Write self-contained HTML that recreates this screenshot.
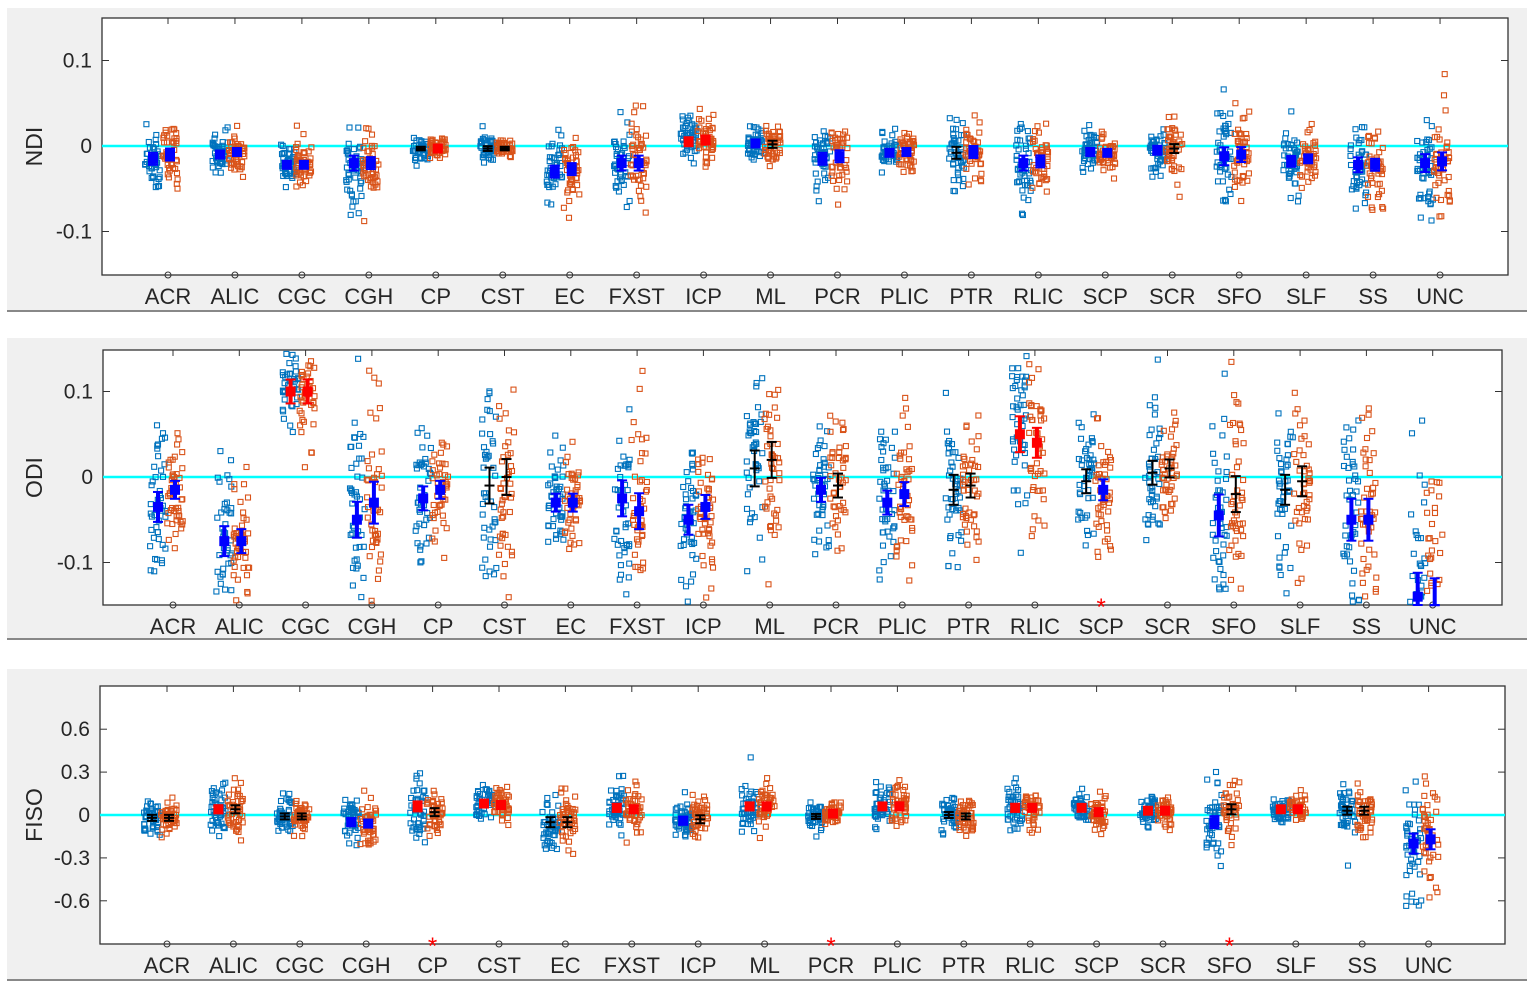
<!DOCTYPE html>
<html><head><meta charset="utf-8"><style>
body{margin:0;background:#fff;width:1535px;height:994px;overflow:hidden;font-family:"Liberation Sans",sans-serif}
</style></head><body>
<svg id="s" width="1535" height="994" xmlns="http://www.w3.org/2000/svg" font-family="Liberation Sans, sans-serif"></svg>
<script>
var s=document.getElementById('s'),out='';
var seed=12345;function rnd(){seed=(seed*1103515245+12345)%2147483648;return seed/2147483648;}
function gauss(){var u=rnd()||1e-9,v=rnd();return Math.sqrt(-2*Math.log(u))*Math.cos(2*Math.PI*v);}
var names=['ACR','ALIC','CGC','CGH','CP','CST','EC','FXST','ICP','ML','PCR','PLIC','PTR','RLIC','SCP','SCR','SFO','SLF','SS','UNC'];
var panels=[
{bg:[7,8,1520,302],ax:[102,18,1508,275],x0:168,dx:66.95,y0:146,ppu:855,ticks:[[0.1,'0.1'],[0,'0'],[-0.1,'-0.1']],lab:'NDI',laby:292,
d:[[-.015,.02,-.01,.02,'b','b'],[-.01,.012,-.007,.012,'b','b'],[-.022,.012,-.022,.012,'b','b'],[-.02,.025,-.02,.02,'b','b'],[-.003,.006,-.003,.006,'k','r'],[-.003,.008,-.003,.006,'k','k'],[-.03,.02,-.027,.02,'b','b'],[-.02,.025,-.02,.025,'b','b'],[.005,.015,.007,.015,'r','r'],[.003,.012,.002,.012,'b','k'],[-.015,.02,-.012,.02,'b','b'],[-.008,.012,-.007,.012,'b','b'],[-.008,.02,-.007,.02,'k','b'],[-.02,.025,-.018,.02,'b','b'],[-.007,.012,-.008,.01,'b','b'],[-.005,.015,-.003,.015,'b','k'],[-.012,.03,-.01,.025,'b','b'],[-.018,.018,-.015,.015,'b','b'],[-.022,.025,-.022,.02,'b','b'],[-.02,.03,-.018,.03,'b','b']],stars:[]},
{bg:[7,338,1520,300],ax:[103,350,1502,605],x0:173,dx:66.3,y0:477,ppu:855,ticks:[[0.1,'0.1'],[0,'0'],[-0.1,'-0.1']],lab:'ODI',laby:622,
d:[[-.035,.05,-.015,.03,'b','b'],[-.075,.05,-.075,.04,'b','b'],[.1,.04,.1,.04,'r','r'],[-.05,.06,-.03,.07,'b','b'],[-.025,.04,-.015,.03,'b','b'],[-.01,.06,0,.06,'k','k'],[-.03,.03,-.03,.03,'b','b'],[-.025,.06,-.04,.06,'b','b'],[-.05,.05,-.035,.04,'b','b'],[.01,.06,.02,.06,'k','k'],[-.015,.04,-.01,.04,'b','k'],[-.03,.04,-.02,.04,'b','b'],[-.015,.05,-.01,.04,'k','k'],[.05,.06,.04,.05,'r','r'],[-.005,.04,-.015,.035,'k','b'],[.005,.04,.01,.03,'k','k'],[-.045,.07,-.02,.06,'b','k'],[-.015,.05,-.005,.05,'k','k'],[-.05,.07,-.05,.07,'b','b'],[-.14,.08,-.15,.09,'b','b']],stars:[14]},
{bg:[7,669,1520,310],ax:[100,686,1505,944],x0:167,dx:66.4,y0:815,ppu:143,ticks:[[0.6,'0.6'],[0.3,'0.3'],[0,'0'],[-0.3,'-0.3'],[-0.6,'-0.6']],lab:'FISO',laby:961,
d:[[-.02,.06,-.02,.06,'k','k'],[.04,.08,.04,.08,'r','k'],[-.01,.06,-.01,.06,'k','k'],[-.05,.08,-.06,.08,'b','b'],[.06,.1,.02,.08,'r','k'],[.08,.05,.07,.05,'r','r'],[-.05,.1,-.05,.1,'k','k'],[.05,.08,.04,.08,'r','r'],[-.04,.08,-.03,.08,'b','k'],[.06,.08,.06,.08,'r','r'],[-.01,.05,.01,.04,'k','r'],[.06,.07,.06,.08,'r','r'],[0,.06,-.01,.06,'k','k'],[.05,.08,.05,.07,'r','r'],[.05,.06,.02,.06,'r','r'],[.03,.05,.03,.05,'r','r'],[-.05,.12,.04,.1,'b','k'],[.04,.05,.04,.05,'r','r'],[.03,.08,.03,.08,'k','k'],[-.2,.2,-.17,.2,'b','b']],stars:[4,10,16]}
];
var cols={b:'#0000ff',r:'#ff0000',k:'#000000'};
panels.forEach(function(p,pi){
 var a=p.ax;
 out+='<rect x="'+p.bg[0]+'" y="'+p.bg[1]+'" width="'+p.bg[2]+'" height="'+p.bg[3]+'" fill="#f0f0f0"/>';
 out+='<line x1="7" x2="1527" y1="'+(p.bg[1]+p.bg[3]+1)+'" y2="'+(p.bg[1]+p.bg[3]+1)+'" stroke="#888" stroke-width="2"/>';
 out+='<rect x="'+a[0]+'" y="'+a[1]+'" width="'+(a[2]-a[0])+'" height="'+(a[3]-a[1])+'" fill="#fff" stroke="#333" stroke-width="1.3"/>';
 var g='';
 g+='<line x1="'+a[0]+'" x2="'+a[2]+'" y1="'+p.y0+'" y2="'+p.y0+'" stroke="#00ffff" stroke-width="2.5"/>';
 function Y(v){return p.y0-v*p.ppu;}
 p.ticks.forEach(function(t){var y=Y(t[0]);out+='<text x="'+(a[0]-10)+'" y="'+(y+7)+'" font-size="21" fill="#262626" text-anchor="end">'+t[1]+'</text>';
  out+='<line x1="'+a[0]+'" x2="'+(a[0]+7)+'" y1="'+y+'" y2="'+y+'" stroke="#333"/><line x1="'+a[2]+'" x2="'+(a[2]-7)+'" y1="'+y+'" y2="'+y+'" stroke="#333"/>';});
 var cy=(a[1]+a[3])/2;
 out+='<text transform="translate(42,'+cy+') rotate(-90)" font-size="23" fill="#262626" text-anchor="middle">'+p.lab+'</text>';
 p.d.forEach(function(d,i){
  var xc=p.x0+i*p.dx;
  out+='<text x="'+xc+'" y="'+(p.laby+12)+'" font-size="22" fill="#262626" text-anchor="middle">'+names[i]+'</text>';
  out+='<line x1="'+xc+'" x2="'+xc+'" y1="'+a[1]+'" y2="'+(a[1]+6)+'" stroke="#333"/>';
  if(p.stars.indexOf(i)>=0) out+='<text x="'+xc+'" y="'+(a[3]+10)+'" font-size="24" fill="#ff0000" text-anchor="middle">*</text>';
  else out+='<circle cx="'+xc+'" cy="'+a[3]+'" r="3" fill="none" stroke="#333"/>';
  [[-15,d[0],d[1],'#0072bd',d[4]],[2,d[2],d[3],'#d95319',d[5]]].forEach(function(q){
   var xm=xc+q[0];
   for(var k=0;k<45;k++){var v=q[1]+q[2]*gauss();var y=Y(v);if(y<a[1]+3||y>a[3]-3)continue;
    var x=xm+(rnd()-0.5)*16;g+='<rect x="'+(x-2.5).toFixed(1)+'" y="'+(y-2.5).toFixed(1)+'" width="5" height="5" fill="none" stroke="'+q[3]+'" stroke-width="1.1"/>';}
   var se=q[2]*0.35,c=cols[q[4]],ym=Y(q[1]),y1=Math.max(Y(q[1]+se),a[1]),y2=Math.min(Y(q[1]-se),a[3]);
   var w=q[4]=='k'?2:4;
   g+='<line x1="'+xm+'" x2="'+xm+'" y1="'+y1+'" y2="'+y2+'" stroke="'+c+'" stroke-width="'+w+'"/>';
   g+='<line x1="'+(xm-5)+'" x2="'+(xm+5)+'" y1="'+y1+'" y2="'+y1+'" stroke="'+c+'" stroke-width="2"/><line x1="'+(xm-5)+'" x2="'+(xm+5)+'" y1="'+y2+'" y2="'+y2+'" stroke="'+c+'" stroke-width="2"/>';
   if(q[4]!='k'&&ym>a[1]&&ym<a[3]) g+='<rect x="'+(xm-5)+'" y="'+(ym-5)+'" width="10" height="10" fill="'+c+'"/>';
   else g+='<line x1="'+(xm-5)+'" x2="'+(xm+5)+'" y1="'+ym+'" y2="'+ym+'" stroke="'+c+'" stroke-width="2"/>';
  });
 });
 out+=g;
});
s.innerHTML=out;
</script>
</body></html>
